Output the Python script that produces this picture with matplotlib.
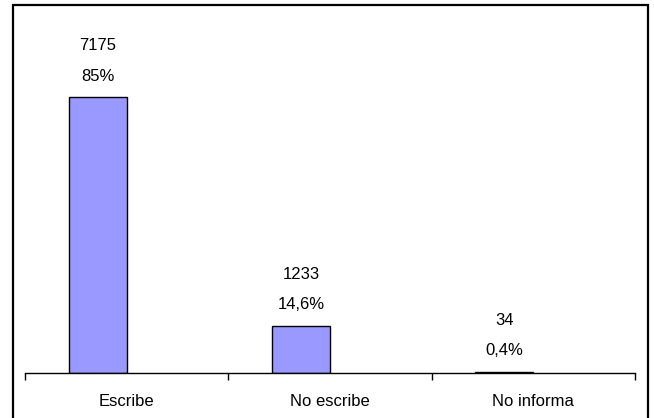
import matplotlib
matplotlib.use("Agg")
import matplotlib.pyplot as plt
from matplotlib.patches import Rectangle

categories = ["Escribe", "No escribe", "No informa"]
counts = [7175, 1233, 34]
percents = [85, 14.6, 0.4]

plt.rcParams["font.family"] = ["Liberation Sans", "DejaVu Sans"]

fig = plt.figure(figsize=(6.54, 4.18), dpi=100)
fig.patch.set_facecolor("white")

# outer chart frame
fig.patches.append(Rectangle((13 / 654, -0.02), (648 - 13) / 654, 1.02 - 4.5 / 418,
                             transform=fig.transFigure, fill=False,
                             edgecolor="black", linewidth=1.6, zorder=0))

ax = fig.add_axes([25 / 654, 1 - 373 / 418, (635 - 25) / 654, 346 / 418])
x = list(range(len(categories)))
bar_w = 0.285
# bars sit in the left half of each category slot
bar_x = [xi - bar_w / 2 for xi in x]
ax.bar(bar_x, counts, width=bar_w, color="#9999FF", edgecolor="black", linewidth=1.0)

ax.set_xlim(-0.5, len(categories) - 0.5)
ax.set_ylim(0, 9000)

for s in ["top", "right", "left"]:
    ax.spines[s].set_visible(False)
ax.spines["bottom"].set_linewidth(1.0)
ax.set_yticks([])

ax.set_xticks(x)
ax.set_xticklabels(categories, fontsize=12)
ax.tick_params(axis="x", which="major", length=0, pad=15)
ax.set_xticks([i - 0.5 for i in range(len(categories) + 1)], minor=True)
ax.tick_params(axis="x", which="minor", length=5, width=1.0, direction="out", color="black")

for bx, c, p in zip(bar_x, counts, percents):
    ptxt = f"{p:g}".replace(".", ",") + "%"
    ax.annotate(ptxt, (bx, c), xytext=(0, 15), textcoords="offset points",
                ha="center", va="center", fontsize=12)
    ax.annotate(str(c), (bx, c), xytext=(0, 37), textcoords="offset points",
                ha="center", va="center", fontsize=12)

fig.savefig("out.png", dpi=100)
